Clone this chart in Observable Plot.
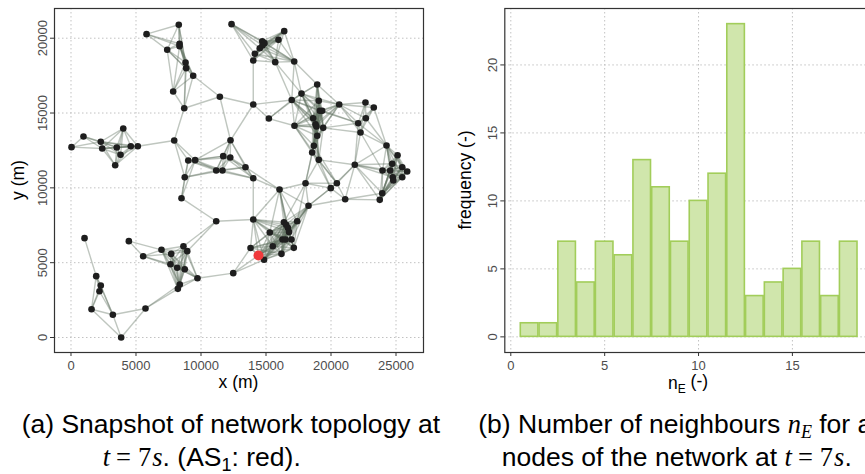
<!DOCTYPE html>
<html><head><meta charset="utf-8">
<script src="https://cdn.jsdelivr.net/npm/d3@7"></script>
<script src="https://cdn.jsdelivr.net/npm/@observablehq/plot@0.6"></script>
<style>
html,body{margin:0;padding:0;background:#fff;}
body{width:865px;height:474px;overflow:hidden;position:relative;font-family:"Liberation Sans",Arial,sans-serif;}
.panel{position:absolute;top:0;width:460px;}
.cap{position:absolute;white-space:nowrap;font-size:26.5px;line-height:26.5px;color:#000;}
.m{font-family:"Liberation Serif","Times New Roman",serif;}
.mi{font-family:"Liberation Serif","Times New Roman",serif;font-style:italic;}
.sub{font-size:0.68em;position:relative;top:0.28em;}
</style>
</head><body>
<div id="pa" class="panel" style="left:0px"></div>
<div id="pb" class="panel" style="left:430px"></div>
<div class="cap" style="left:21.7px;top:410.6px">(a) Snapshot of network topology at</div>
<div class="cap" style="left:102.7px;top:444.3px"><span class="mi">t</span><span class="m" style="margin:0 7px 0 6px">=</span><span class="m">7</span><span class="mi" style="margin-left:1px">s</span>. (AS<span class="sub">1</span>: red).</div>
<div class="cap" style="left:478.3px;top:410.6px">(b) Number of neighbours <span class="mi">n<span class="sub">E</span></span> for all</div>
<div class="cap" style="left:501.7px;top:444.3px">nodes of the network at <span class="mi">t</span><span class="m" style="margin:0 7px 0 6px">=</span><span class="m">7</span><span class="mi" style="margin-left:1px">s</span>.</div>
<script>
// ---------- Panel (a): network snapshot ----------
const xTicksA = [0, 5000, 10000, 15000, 20000, 25000];
const yTicksA = [0, 5000, 10000, 15000, 20000];

const nodeX = [
  5810, 8290, 8350, 8350, 7400, 8810, 8860, 9400, 7860, 8710, 11450,
  40, 960, 2290, 2400, 3520, 4020, 3810, 3400, 4600, 5140,
  7940,
  9020, 9550, 8750, 8500, 11170, 11650, 11710, 12250, 12270, 13420, 14020,
  12350, 14710, 14880, 14520, 14730, 14140, 14020, 15710, 17170, 15960, 16400,
  14020, 15220,
  18940, 17730, 16980, 19060, 19140, 19320, 17190, 18630, 18810, 18880, 19400, 18940, 18680, 18550, 19060,
  20630, 22650, 23290, 22680, 22090, 22270, 21830,
  24270, 25120, 24710, 25480, 23960, 24550, 25860, 24750, 25480, 24790,
  18040, 19980, 20450, 21090, 18270, 16040, 23940, 23750,
  11170, 14020,
  16380, 16550, 16680, 16770, 17400, 15290, 16270, 16500, 16960, 15520, 17140, 13810, 14850, 16190, 12480,
  4450, 5550, 6960, 7710, 8650, 8940, 7650, 8170, 8750, 9730, 8370, 8220,
  1040, 1940, 2290, 2190, 1580, 3220, 5730, 3860
];
const nodeY = [
  20270, 20900, 19630, 19470, 19230, 18380, 18000, 17490, 16440, 15320, 16090,
  12720, 13430, 13080, 12630, 12700, 13970, 12210, 11510, 12780, 12780,
  13160,
  11830, 11850, 10710, 9310, 11160, 11160, 12120, 12030, 13180, 11380, 10640,
  20940, 19800, 19670, 19330, 19510, 18960, 18510, 18400, 18440, 19890, 20470,
  15570, 14630,
  16910, 16300, 15870, 15820, 15150, 15150, 14150, 14650, 14250, 14100, 14010, 13480, 12810, 12360, 11870,
  15570, 15700, 15370, 14650, 14320, 13700, 11540,
  12830, 12180, 11610, 11380, 11160, 11160, 11090, 10710, 10710, 10490,
  10310, 9980, 10310, 9240, 8800, 9890, 9640, 9200,
  7770, 7890,
  7700, 7530, 7330, 7050, 7770, 7020, 6550, 6550, 6550, 6100, 5990, 5980, 5200, 5590, 4300,
  6440, 5430, 5860, 5590, 6100, 5770, 4900, 4660, 4560, 3960, 3540, 3250,
  6640, 4100, 3470, 3090, 1890, 1520, 1940, 0
];
// AS1 (red node)
const as1X = [14420];
const as1Y = [5480];
// communication range (m) defining links between nodes
const commRange = 3100;

// ---------- Panel (b): histogram of neighbours ----------
const nE   = [1, 2, 3, 4, 5, 6, 7, 8, 9, 10, 11, 12, 13, 14, 15, 16, 17, 18];
const freq = [1, 1, 7, 4, 7, 6, 13, 11, 7, 10, 12, 23, 3, 4, 5, 7, 3, 7];
const xTicksB = [0, 5, 10, 15];
const yTicksB = [0, 5, 10, 15, 20];

const nodes = nodeX.map((x, i) => ({x, y: nodeY[i]}));
const as1 = as1X.map((x, i) => ({x, y: as1Y[i]}));
const all = nodes.concat(as1);
const edges = [];
for (let i = 0; i < all.length; i++) {
  for (let j = i + 1; j < all.length; j++) {
    const d = Math.hypot(all[i].x - all[j].x, all[i].y - all[j].y);
    if (d <= commRange) edges.push({x1: all[i].x, y1: all[i].y, x2: all[j].x, y2: all[j].y});
  }
}
const hist = nE.map((n, i) => ({n, count: freq[i]}));

const font = '"Liberation Sans", Arial, sans-serif';
const gridStyle = {stroke: "#c2c2c2", strokeOpacity: 1, strokeWidth: 1, strokeDasharray: "1.5,2.5"};
const svgStyle = {fontFamily: font, fontSize: "13px", background: "none", overflow: "visible", maxWidth: "none"};

const svgA = Plot.plot({
  width: 430, height: 400,
  marginLeft: 54, marginRight: 7, marginTop: 8, marginBottom: 48,
  style: svgStyle,
  x: {domain: [-1269, 27115]},
  y: {domain: [-1002, 21985]},
  marks: [
    Plot.gridX(xTicksA, gridStyle),
    Plot.gridY(yTicksA, gridStyle),
    Plot.link(edges, {x1: "x1", y1: "y1", x2: "x2", y2: "y2", stroke: "#5f705f", strokeOpacity: 0.4, strokeWidth: 1.4}),
    Plot.dot(nodes, {x: "x", y: "y", r: 3.3, fill: "#1e1e1e"}),
    Plot.dot(as1, {x: "x", y: "y", r: 5, fill: "#f03a3c"}),
    Plot.frame({stroke: "#333", strokeWidth: 1.2}),
    Plot.axisX(xTicksA, {tickSize: 4, tickPadding: 4, stroke: "#333", fill: "#4d4d4d", tickFormat: d => String(d), label: null}),
    Plot.axisY(yTicksA, {tickSize: 4, tickPadding: 4, tickRotate: -90, stroke: "#333", fill: "#4d4d4d", tickFormat: d => String(d), label: null})
  ]
});
document.getElementById("pa").appendChild(svgA);

const svgB = Plot.plot({
  width: 450, height: 400,
  marginLeft: 74.3, marginRight: 7, marginTop: 8, marginBottom: 48,
  style: svgStyle,
  x: {domain: [-0.32, 19.32]},
  y: {domain: [-1.15, 24.15]},
  marks: [
    Plot.gridX(xTicksB, gridStyle),
    Plot.gridY(yTicksB, gridStyle),
    Plot.rectY(hist, {x1: d => d.n - 0.5, x2: d => d.n + 0.5, y1: 0, y2: "count", fill: "#d0e6ac", stroke: "#a2cd5a", strokeWidth: 1.6, insetLeft: 0.6, insetRight: 0.6}),
    Plot.frame({stroke: "#333", strokeWidth: 1.2}),
    Plot.axisX(xTicksB, {tickSize: 4, tickPadding: 4, stroke: "#333", fill: "#4d4d4d", label: null}),
    Plot.axisY(yTicksB, {tickSize: 4, tickPadding: 4, tickRotate: -90, stroke: "#333", fill: "#4d4d4d", label: null})
  ]
});
document.getElementById("pb").appendChild(svgB);

// axis titles
function title(svg, x, y, rot, parts) {
  const t = d3.select(svg).append("text")
    .attr("transform", `translate(${x},${y}) rotate(${rot})`)
    .attr("text-anchor", "middle")
    .attr("font-family", font)
    .attr("font-size", "17.5px")
    .attr("fill", "#000");
  parts.forEach(p => {
    const s = t.append("tspan").text(p.text);
    if (p.sub) s.attr("font-size", "12px").attr("dy", "0.3em");
    if (p.back) s.attr("dy", "-0.3em");
  });
}
title(svgA, 238.5, 388, 0, [{text: "x (m)"}]);
title(svgA, 24, 180, -90, [{text: "y (m)"}]);
title(svgB, 41, 180, -90, [{text: "frequency (-)"}]);
title(svgB, 258, 389, 0, [{text: "n"}, {text: "E", sub: true}, {text: " (-)", back: true}]);
</script>
</body></html>
